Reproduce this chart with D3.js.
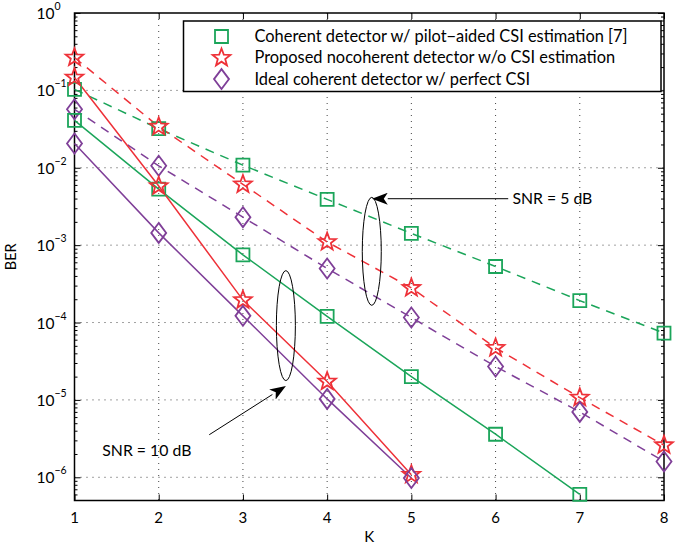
<!DOCTYPE html>
<html>
<head>
<meta charset="utf-8">
<script src="https://cdn.jsdelivr.net/npm/d3@7"></script>
<style>
  body { margin: 0; background: #fff; }
  text { font-family: Lato, "Open Sans", sans-serif; }
</style>
</head>
<body>
<div id="chart"></div>
<script>
// Data
let kValues = [1, 2, 3, 4, 5, 6, 7, 8];
let seriesNames = [
    "Coherent detector w/ pilot\u2212aided CSI estimation [7]",
    "Proposed nocoherent detector w/o CSI estimation",
    "Ideal coherent detector w/ perfect CSI"
];
// SNR = 5 dB (dashed)
let coherent5 = [0.103, 0.032, 0.0108, 0.0039, 0.00142, 0.00053, 0.000192, 0.000073];
let proposed5 = [0.266, 0.034, 0.0061, 0.0011, 0.00028, 0.000047, 0.0000107, 0.0000026];
let ideal5    = [0.057, 0.0106, 0.0023, 0.0005, 0.000116, 0.000027, 0.000007, 0.0000016];
// SNR = 10 dB (solid)
let coherent10 = [0.041, 0.0053, 0.00075, 0.00012, 0.00002, 0.0000036, 0.0000006];
let proposed10 = [0.147, 0.0058, 0.000195, 0.0000173, 0.00000108];
let ideal10    = [0.0206, 0.00144, 0.000122, 0.0000103, 0.00000098];
let yTickExps = [0, -1, -2, -3, -4, -5, -6];

let colors = {coherent: "#1ba55a", proposed: "#ee3138", ideal: "#7f3f98"};

let margin = {top: 13, right: 30, bottom: 45, left: 74.5},
    width = 664 - margin.left,
    height = 500.5 - margin.top;

let svg = d3.select("#chart").append("svg")
    .attr("width", 694)
    .attr("height", 545)
    .append("g")
    .attr("transform", "translate(" + margin.left + "," + margin.top + ")");

let x = d3.scaleLinear().domain([1, 8]).range([0, width]);
let y = d3.scaleLog().domain([Math.pow(10, -6.3), 1]).range([height, 0]);

// grid
svg.selectAll(".vgrid").data(kValues.slice(1, -1)).enter().append("line")
    .attr("x1", d => x(d)).attr("x2", d => x(d))
    .attr("y1", 0).attr("y2", height)
    .attr("stroke", "#444").attr("stroke-width", 1)
    .attr("stroke-dasharray", "1,5");
svg.selectAll(".hgrid").data(yTickExps.slice(1)).enter().append("line")
    .attr("x1", 0).attr("x2", width)
    .attr("y1", d => y(Math.pow(10, d))).attr("y2", d => y(Math.pow(10, d)))
    .attr("stroke", "#444").attr("stroke-width", 1)
    .attr("stroke-dasharray", "1,5");

// axes (ticks pointing inward)
let minor = [];
for (let e = -7; e < 0; e++) {
    for (let m = 2; m <= 9; m++) {
        let v = m * Math.pow(10, e);
        if (v >= y.domain()[0]) minor.push(v);
    }
}
let yMajor = yTickExps.map(e => Math.pow(10, e));

svg.append("g").attr("class", "axis")
    .call(d3.axisRight(y).tickValues(yMajor).tickSize(6).tickFormat(""));
svg.append("g").attr("class", "axis")
    .call(d3.axisRight(y).tickValues(minor).tickSize(3).tickFormat(""));
svg.append("g").attr("class", "axis")
    .attr("transform", "translate(" + width + ",0)")
    .call(d3.axisLeft(y).tickValues(yMajor).tickSize(6).tickFormat(""));
svg.append("g").attr("class", "axis")
    .attr("transform", "translate(" + width + ",0)")
    .call(d3.axisLeft(y).tickValues(minor).tickSize(3).tickFormat(""));
svg.append("g").attr("class", "axis")
    .attr("transform", "translate(0," + height + ")")
    .call(d3.axisTop(x).tickValues(kValues).tickSize(6).tickFormat(""));
svg.append("g").attr("class", "axis")
    .call(d3.axisBottom(x).tickValues(kValues).tickSize(6).tickFormat(""));
svg.selectAll(".axis .domain").remove();
svg.selectAll(".axis line").attr("stroke", "#000");

// x tick labels
svg.selectAll(".xlab").data(kValues).enter().append("text")
    .attr("x", d => x(d)).attr("y", height + 22)
    .attr("text-anchor", "middle").attr("font-size", 15)
    .text(d => d);

// y tick labels 10^e
let yl = svg.selectAll(".ylab").data(yTickExps).enter().append("text")
    .attr("x", -38).attr("y", d => y(Math.pow(10, d)) + 6)
    .attr("font-size", 15.5);
yl.append("tspan").text("10");
yl.append("tspan").attr("dy", -9).attr("font-size", 10.5)
    .text(d => d === 0 ? "0" : "\u2212" + (-d));

// axis titles
svg.append("text").attr("x", x(4.5)).attr("y", height + 41)
    .attr("text-anchor", "middle").attr("font-size", 15).text("K");
svg.append("text")
    .attr("transform", "translate(" + (-59) + "," + (height / 2) + ") rotate(-90)")
    .attr("text-anchor", "middle").attr("font-size", 14.5).text("BER");

// box
svg.append("rect").attr("width", width).attr("height", height)
    .attr("fill", "none").attr("stroke", "#000").attr("stroke-width", 1.5);

// curves
let line = d3.line().x((d, i) => x(kValues[i])).y(d => y(d));
let curves = [
    {vals: coherent5, c: colors.coherent, m: "square", dash: "9,7"},
    {vals: proposed5, c: colors.proposed, m: "star", dash: "9,7"},
    {vals: ideal5, c: colors.ideal, m: "diamond", dash: "9,7"},
    {vals: coherent10, c: colors.coherent, m: "square", dash: null},
    {vals: proposed10, c: colors.proposed, m: "star", dash: null},
    {vals: ideal10, c: colors.ideal, m: "diamond", dash: null}
];

function starPath(R, r) {
    let p = [];
    for (let i = 0; i < 10; i++) {
        let a = -Math.PI / 2 + i * Math.PI / 5;
        let rr = i % 2 === 0 ? R : r;
        p.push([rr * Math.cos(a), rr * Math.sin(a)]);
    }
    return "M" + p.map(q => q.join(",")).join("L") + "Z";
}
let markerPaths = {
    square: "M-6.5,-6.5H6.5V6.5H-6.5Z",
    star: starPath(9.3, 3.9),
    diamond: "M0,-10L7.5,0L0,10L-7.5,0Z"
};

curves.forEach(function(s) {
    svg.append("path").datum(s.vals)
        .attr("d", line)
        .attr("fill", "none").attr("stroke", s.c).attr("stroke-width", 1.5)
        .attr("stroke-dasharray", s.dash);
});
curves.forEach(function(s) {
    svg.selectAll(null).data(s.vals).enter().append("path")
        .attr("transform", (d, i) => "translate(" + x(kValues[i]) + "," + y(d) + ")")
        .attr("d", markerPaths[s.m])
        .attr("fill", "none").attr("stroke", s.c).attr("stroke-width", 1.8);
});

// annotations
let ann = svg.append("g");
ann.append("defs").append("marker")
    .attr("id", "arr").attr("viewBox", "0 -6 16 12")
    .attr("refX", 0).attr("refY", 0)
    .attr("markerWidth", 16).attr("markerHeight", 12)
    .attr("markerUnits", "userSpaceOnUse")
    .attr("orient", "auto")
    .append("path").attr("d", "M16,0L0,-6L4,0L0,6Z").attr("fill", "#000");

// SNR = 5 dB
ann.append("ellipse").attr("cx", x(4.53)).attr("cy", y(Math.pow(10, -3.08)))
    .attr("rx", 9.5).attr("ry", 54).attr("fill", "none").attr("stroke", "#000");
ann.append("line").attr("x1", x(6.15)).attr("y1", y(Math.pow(10, -2.4)))
    .attr("x2", x(4.53) + 16).attr("y2", y(Math.pow(10, -2.4)))
    .attr("stroke", "#333").attr("stroke-width", 1.2)
    .attr("marker-end", "url(#arr)");
ann.append("text").attr("x", x(6.2)).attr("y", y(Math.pow(10, -2.4)) + 5.5)
    .attr("font-size", 15.8).text("SNR = 5 dB");

// SNR = 10 dB
ann.append("ellipse").attr("cx", x(3.51)).attr("cy", y(Math.pow(10, -4.04)))
    .attr("rx", 9.5).attr("ry", 55).attr("fill", "none").attr("stroke", "#000");
ann.append("line").attr("x1", x(2.6)).attr("y1", y(Math.pow(10, -5.45)))
    .attr("x2", x(3.35)).attr("y2", y(Math.pow(10, -4.93)))
    .attr("stroke", "#000").attr("stroke-width", 1)
    .attr("marker-end", "url(#arr)");
ann.append("text").attr("x", x(1.33)).attr("y", y(Math.pow(10, -5.65)) + 5.5)
    .attr("font-size", 15.8).text("SNR = 10 dB");

// legend
let lg = svg.append("g").attr("transform", "translate(" + (183.5 - margin.left) + "," + (21 - margin.top) + ")");
lg.append("rect").attr("width", 477.5).attr("height", 70.5)
    .attr("fill", "#fff").attr("stroke", "#000").attr("stroke-width", 1.5);
let legItems = [
    {name: seriesNames[0], c: colors.coherent, m: "square"},
    {name: seriesNames[1], c: colors.proposed, m: "star"},
    {name: seriesNames[2], c: colors.ideal, m: "diamond"}
];
legItems.forEach(function(d, i) {
    let yy = 15.5 + i * 21.3;
    lg.append("path").attr("transform", "translate(38," + yy + ")")
        .attr("d", markerPaths[d.m])
        .attr("fill", "none").attr("stroke", d.c).attr("stroke-width", 1.8);
    lg.append("text").attr("x", 71).attr("y", yy + 5.5)
        .attr("font-size", 16.4).text(d.name);
});
</script>
</body>
</html>
